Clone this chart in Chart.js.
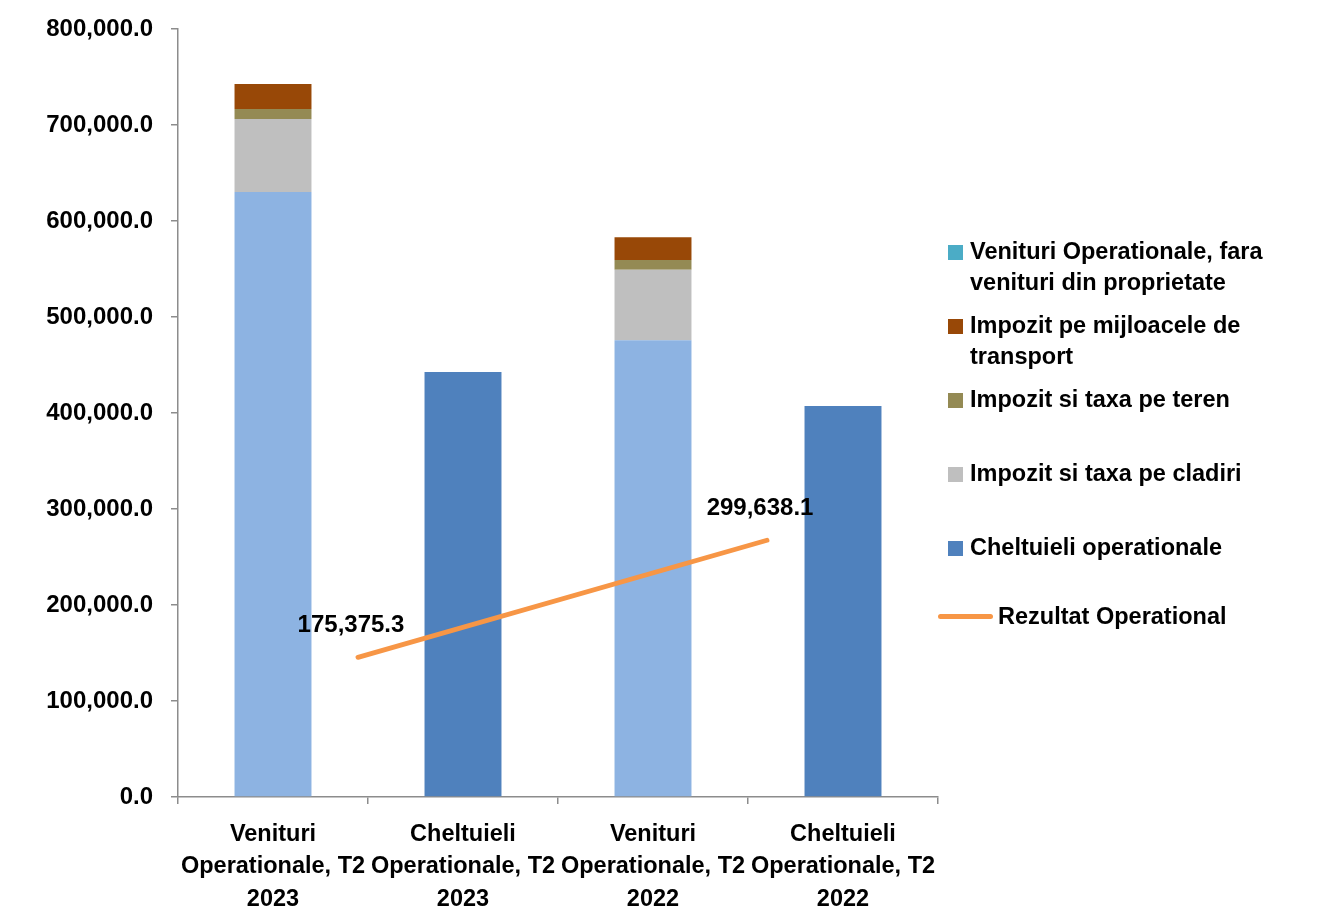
<!DOCTYPE html>
<html>
<head>
<meta charset="utf-8">
<script src="https://cdn.jsdelivr.net/npm/chart.js@4.4.1/dist/chart.umd.min.js"></script>
<style>
  html, body { margin: 0; padding: 0; background: #fff; }
  #wrap { position: relative; width: 1325px; height: 906px; }
  #legend { position: absolute; left: 938px; top: 236px; font-family: "Liberation Sans", Arial, sans-serif; font-weight: bold; font-size: 23.5px; color: #000; }
  .item { position: relative; height: 74px; }
  .item.ln { margin-top: -5px; }
  .item .box { position: absolute; left: 10px; top: 9px; width: 15px; height: 15px; }
  .item .line { position: absolute; left: 0; top: 13px; width: 55px; height: 5px; border-radius: 3px; }
  .item .txt { position: absolute; left: 32px; top: 0; width: 325px; line-height: 31px; }
  .item.ln .txt { left: 60px; }
</style>
</head>
<body>
<div id="wrap">
  <canvas id="chart" width="1325" height="906"></canvas>
  <div id="legend"></div>
</div>
<script>
// categories (x axis, 3 lines each)
const categories = [
  ['Venituri', 'Operationale, T2', '2023'],
  ['Cheltuieli', 'Operationale, T2', '2023'],
  ['Venituri', 'Operationale, T2', '2022'],
  ['Cheltuieli', 'Operationale, T2', '2022']
];

// stacked revenue parts
const venituriFaraProprietate = [630100, null, 475800, null];
const impozitCladiri = [76100, null, 73400, null];
const impozitTeren = [10400, null, 10100, null];
const impozitTransport = [26100, null, 23700, null];
// expenses
const cheltuieli = [null, 442600, null, 407200];
// operating result (line, secondary axis)
const rezultat = [175375.3, 299638.1];

const legendLabels = [
  'Venituri Operationale, fara venituri din proprietate',
  'Impozit pe mijloacele de transport',
  'Impozit si taxa pe teren',
  'Impozit si taxa pe cladiri',
  'Cheltuieli operationale',
  'Rezultat Operational'
];
const legendColors = ['#4BACC6', '#984807', '#948A54', '#BFBFBF', '#4F81BD', '#F79646'];

const FONT = '"Liberation Sans", Arial, sans-serif';
const fmt = v => Number(v).toLocaleString('en-US', { minimumFractionDigits: 1, maximumFractionDigits: 1 });

// html legend
const legendEl = document.getElementById('legend');
legendLabels.forEach((lab, i) => {
  const isLine = i === legendLabels.length - 1;
  const div = document.createElement('div');
  div.className = 'item' + (isLine ? ' ln' : '');
  div.innerHTML = `<span class="${isLine ? 'line' : 'box'}" style="background:${legendColors[i]}"></span><span class="txt">${lab}</span>`;
  legendEl.appendChild(div);
});

// labels over the line points
const lineLabels = {
  id: 'lineLabels',
  afterDatasetsDraw(chart) {
    const ctx = chart.ctx;
    chart.data.datasets.forEach((ds, di) => {
      if (ds.type !== 'line') return;
      const meta = chart.getDatasetMeta(di);
      ctx.save();
      ctx.font = `bold 24px ${FONT}`;
      ctx.fillStyle = '#000';
      ctx.textAlign = 'center';
      ctx.textBaseline = 'middle';
      meta.data.forEach((pt, i) => {
        ctx.fillText(fmt(rezultat[i]), pt.x - 7, pt.y - 32);
      });
      ctx.restore();
    });
  }
};

const barCommon = { categoryPercentage: 1, barPercentage: 0.405, borderWidth: 0, order: 1, grouped: false };

new Chart(document.getElementById('chart').getContext('2d'), {
  type: 'bar',
  data: {
    labels: categories,
    datasets: [
      { ...barCommon, label: legendLabels[0], data: venituriFaraProprietate, backgroundColor: '#8DB3E2' },
      { ...barCommon, label: legendLabels[3], data: impozitCladiri, backgroundColor: '#BFBFBF' },
      { ...barCommon, label: legendLabels[2], data: impozitTeren, backgroundColor: '#948A54' },
      { ...barCommon, label: legendLabels[1], data: impozitTransport, backgroundColor: '#984807' },
      { ...barCommon, label: legendLabels[4], data: cheltuieli, backgroundColor: '#4F81BD' },
      {
        type: 'line',
        label: legendLabels[5],
        data: rezultat.map((v, i) => ({ x: i, y: v })),
        xAxisID: 'x2',
        yAxisID: 'y2',
        borderColor: '#F79646',
        borderWidth: 4.8,
        borderCapStyle: 'round',
        pointRadius: 0,
        fill: false,
        order: 0
      }
    ]
  },
  options: {
    responsive: false,
    animation: false,
    layout: { padding: { left: 0, top: 29, right: 387, bottom: 0 } },
    plugins: {
      legend: { display: false },
      tooltip: { enabled: false }
    },
    scales: {
      x: {
        stacked: true,
        afterFit: s => { s.height = 109; },
        border: { color: '#8C8C8C', width: 1.5 },
        grid: { drawOnChartArea: false, drawTicks: true, tickLength: 7, color: '#8C8C8C', lineWidth: 1.5 },
        ticks: {
          autoSkip: false, maxRotation: 0, minRotation: 0, padding: 14,
          color: '#000', font: { family: FONT, size: 23.5, weight: 'bold', lineHeight: 1.38 }
        }
      },
      y: {
        stacked: true,
        min: 0,
        max: 800000,
        afterFit: s => { s.width = 178; s.paddingTop = 0; s.paddingBottom = 0; },
        border: { color: '#8C8C8C', width: 1.5 },
        grid: { drawOnChartArea: false, drawTicks: true, tickLength: 7, color: '#8C8C8C', lineWidth: 1.5 },
        ticks: {
          stepSize: 100000, padding: 18, color: '#000',
          font: { family: FONT, size: 24, weight: 'bold' },
          callback: v => fmt(v)
        }
      },
      x2: { type: 'linear', display: false, offset: false, grid: { offset: false }, min: -0.44, max: 1.418 },
      y2: { type: 'linear', display: false, beginAtZero: false, min: 27200, max: 842300 }
    }
  },
  plugins: [lineLabels]
});
</script>
</body>
</html>
